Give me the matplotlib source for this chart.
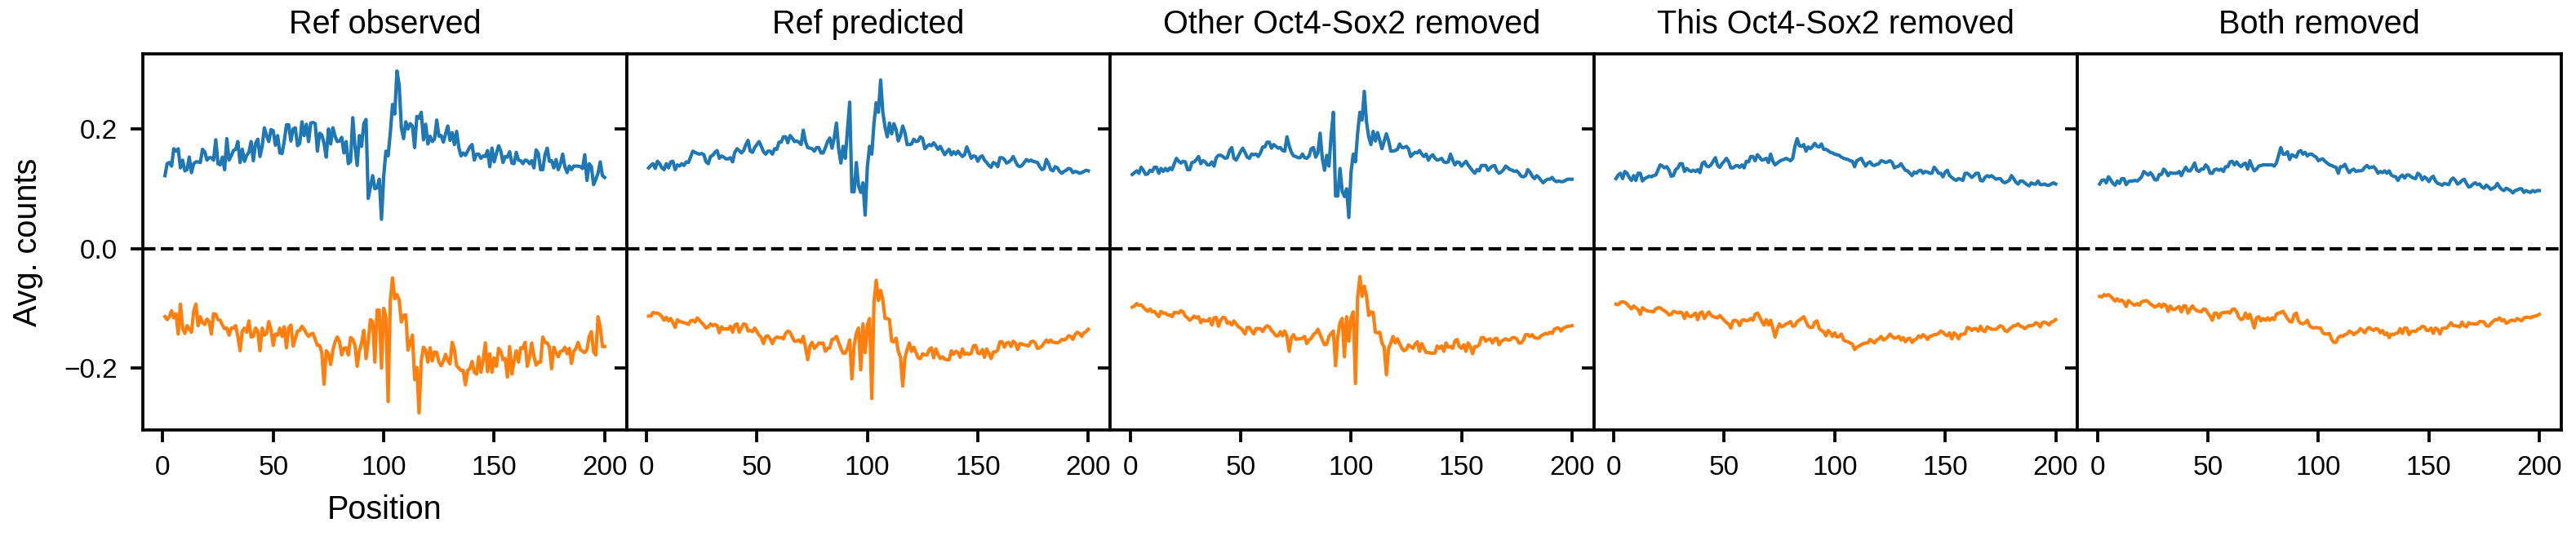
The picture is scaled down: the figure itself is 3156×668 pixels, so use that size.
import numpy as np
import matplotlib
matplotlib.use("Agg")
import matplotlib.pyplot as plt

plt.rcParams['font.family'] = ['Liberation Sans', 'DejaVu Sans']

# --- panel titles ---
titles = ["Ref observed", "Ref predicted", "Other Oct4-Sox2 removed",
          "This Oct4-Sox2 removed", "Both removed"]
xticks = [0, 50, 100, 150, 200]
yticks = [-0.2, 0.0, 0.2]

# --- positive strand (blue) avg. counts per position ---
pos_ref_obs = [
    0.122, 0.142, 0.144, 0.138, 0.167, 0.163, 0.167, 0.135, 0.148, 0.130,
    0.132, 0.153, 0.127, 0.142, 0.145, 0.145, 0.144, 0.166, 0.162, 0.148,
    0.152, 0.152, 0.148, 0.182, 0.142, 0.140, 0.153, 0.132, 0.184, 0.148,
    0.155, 0.164, 0.166, 0.179, 0.144, 0.166, 0.146, 0.156, 0.161, 0.179,
    0.147, 0.176, 0.183, 0.154, 0.171, 0.202, 0.189, 0.179, 0.199, 0.197,
    0.173, 0.189, 0.160, 0.159, 0.180, 0.207, 0.207, 0.180, 0.200, 0.202,
    0.172, 0.176, 0.212, 0.189, 0.208, 0.179, 0.210, 0.211, 0.209, 0.163,
    0.193, 0.190, 0.176, 0.153, 0.200, 0.175, 0.202, 0.188, 0.179, 0.180,
    0.186, 0.160, 0.179, 0.142, 0.146, 0.219, 0.171, 0.139, 0.189, 0.171,
    0.209, 0.216, 0.084, 0.103, 0.122, 0.100, 0.102, 0.116, 0.049, 0.121,
    0.163, 0.155, 0.194, 0.241, 0.225, 0.297, 0.274, 0.202, 0.184, 0.212,
    0.200, 0.209, 0.205, 0.169, 0.221, 0.218, 0.228, 0.182, 0.208, 0.175,
    0.188, 0.179, 0.183, 0.215, 0.188, 0.189, 0.178, 0.192, 0.205, 0.181,
    0.194, 0.174, 0.196, 0.169, 0.155, 0.160, 0.156, 0.163, 0.170, 0.174,
    0.148, 0.158, 0.158, 0.151, 0.155, 0.154, 0.164, 0.137, 0.168, 0.145,
    0.159, 0.172, 0.163, 0.144, 0.154, 0.153, 0.162, 0.143, 0.142, 0.161,
    0.148, 0.147, 0.142, 0.148, 0.147, 0.142, 0.147, 0.135, 0.165, 0.159,
    0.132, 0.132, 0.157, 0.168, 0.146, 0.147, 0.135, 0.149, 0.132, 0.142,
    0.158, 0.137, 0.127, 0.138, 0.132, 0.138, 0.138, 0.138, 0.137, 0.134,
    0.157, 0.114, 0.142, 0.137, 0.107, 0.116, 0.126, 0.145, 0.122, 0.119]

pos_ref_pred = [
    0.135, 0.139, 0.142, 0.134, 0.146, 0.142, 0.135, 0.132, 0.142, 0.135,
    0.145, 0.146, 0.132, 0.140, 0.138, 0.142, 0.139, 0.145, 0.144, 0.153,
    0.163, 0.161, 0.159, 0.158, 0.159, 0.157, 0.145, 0.142, 0.154, 0.156,
    0.161, 0.164, 0.151, 0.155, 0.153, 0.150, 0.150, 0.152, 0.145, 0.161,
    0.167, 0.164, 0.160, 0.164, 0.174, 0.181, 0.163, 0.161, 0.169, 0.174,
    0.179, 0.171, 0.162, 0.158, 0.163, 0.163, 0.158, 0.167, 0.166, 0.178,
    0.178, 0.187, 0.187, 0.177, 0.189, 0.185, 0.179, 0.180, 0.178, 0.174,
    0.198, 0.179, 0.169, 0.168, 0.167, 0.163, 0.169, 0.169, 0.160, 0.160,
    0.169, 0.179, 0.185, 0.168, 0.185, 0.210, 0.167, 0.143, 0.171, 0.151,
    0.198, 0.245, 0.095, 0.095, 0.144, 0.105, 0.094, 0.110, 0.056, 0.137,
    0.171, 0.158, 0.210, 0.244, 0.228, 0.282, 0.228, 0.203, 0.187, 0.210,
    0.192, 0.209, 0.199, 0.180, 0.189, 0.205, 0.194, 0.174, 0.174, 0.175,
    0.183, 0.179, 0.180, 0.187, 0.184, 0.167, 0.171, 0.174, 0.172, 0.177,
    0.172, 0.166, 0.171, 0.164, 0.157, 0.162, 0.166, 0.157, 0.162, 0.158,
    0.163, 0.158, 0.154, 0.157, 0.170, 0.161, 0.151, 0.155, 0.154, 0.146,
    0.153, 0.155, 0.148, 0.144, 0.139, 0.136, 0.144, 0.142, 0.137, 0.152,
    0.152, 0.149, 0.143, 0.145, 0.148, 0.154, 0.146, 0.139, 0.137, 0.139,
    0.144, 0.149, 0.146, 0.148, 0.146, 0.145, 0.144, 0.137, 0.132, 0.134,
    0.149, 0.142, 0.132, 0.130, 0.137, 0.135, 0.129, 0.126, 0.129, 0.131,
    0.134, 0.133, 0.127, 0.129, 0.128, 0.126, 0.127, 0.129, 0.131, 0.130]

pos_other_removed = [
    0.124, 0.127, 0.130, 0.126, 0.136, 0.131, 0.124, 0.125, 0.131, 0.129,
    0.136, 0.136, 0.126, 0.134, 0.129, 0.134, 0.130, 0.135, 0.132, 0.142,
    0.151, 0.146, 0.143, 0.146, 0.145, 0.132, 0.132, 0.144, 0.145, 0.149,
    0.154, 0.142, 0.147, 0.145, 0.140, 0.140, 0.145, 0.138, 0.152, 0.156,
    0.156, 0.154, 0.151, 0.152, 0.164, 0.169, 0.151, 0.148, 0.155, 0.162,
    0.168, 0.161, 0.153, 0.151, 0.158, 0.157, 0.158, 0.154, 0.160, 0.170,
    0.170, 0.178, 0.178, 0.168, 0.174, 0.171, 0.168, 0.169, 0.164, 0.163,
    0.187, 0.172, 0.161, 0.155, 0.154, 0.152, 0.152, 0.158, 0.152, 0.151,
    0.155, 0.167, 0.169, 0.153, 0.160, 0.193, 0.151, 0.131, 0.156, 0.138,
    0.189, 0.228, 0.088, 0.088, 0.134, 0.096, 0.087, 0.100, 0.052, 0.128,
    0.158, 0.145, 0.194, 0.228, 0.215, 0.263, 0.212, 0.187, 0.174, 0.196,
    0.180, 0.194, 0.181, 0.167, 0.180, 0.192, 0.180, 0.163, 0.163, 0.164,
    0.166, 0.175, 0.169, 0.169, 0.171, 0.167, 0.154, 0.158, 0.161, 0.160,
    0.164, 0.158, 0.154, 0.158, 0.148, 0.154, 0.157, 0.151, 0.148, 0.149,
    0.151, 0.145, 0.144, 0.145, 0.158, 0.148, 0.140, 0.145, 0.144, 0.138,
    0.142, 0.146, 0.140, 0.135, 0.130, 0.126, 0.132, 0.130, 0.139, 0.139,
    0.139, 0.131, 0.135, 0.138, 0.139, 0.130, 0.126, 0.128, 0.132, 0.138,
    0.135, 0.132, 0.131, 0.129, 0.130, 0.126, 0.121, 0.120, 0.122, 0.132,
    0.128, 0.121, 0.117, 0.122, 0.119, 0.114, 0.110, 0.114, 0.116, 0.116,
    0.119, 0.114, 0.112, 0.113, 0.112, 0.112, 0.114, 0.116, 0.116, 0.116]

pos_this_removed = [
    0.117, 0.123, 0.126, 0.117, 0.129, 0.126, 0.119, 0.114, 0.122, 0.114,
    0.126, 0.126, 0.113, 0.117, 0.119, 0.121, 0.120, 0.122, 0.123, 0.131,
    0.140, 0.138, 0.135, 0.137, 0.131, 0.121, 0.122, 0.132, 0.135, 0.142,
    0.142, 0.129, 0.134, 0.131, 0.129, 0.131, 0.129, 0.132, 0.127, 0.142,
    0.145, 0.138, 0.137, 0.140, 0.146, 0.152, 0.139, 0.136, 0.142, 0.146,
    0.151, 0.145, 0.135, 0.135, 0.138, 0.139, 0.136, 0.140, 0.135, 0.146,
    0.145, 0.154, 0.154, 0.147, 0.157, 0.153, 0.148, 0.149, 0.151, 0.144,
    0.158, 0.146, 0.140, 0.143, 0.146, 0.148, 0.149, 0.151, 0.149, 0.147,
    0.151, 0.171, 0.184, 0.172, 0.171, 0.174, 0.163, 0.170, 0.167, 0.171,
    0.176, 0.171, 0.170, 0.175, 0.166, 0.166, 0.164, 0.161, 0.160, 0.158,
    0.157, 0.156, 0.153, 0.151, 0.150, 0.149, 0.147, 0.146, 0.137, 0.147,
    0.149, 0.151, 0.144, 0.138, 0.143, 0.145, 0.140, 0.139, 0.141, 0.142,
    0.147, 0.146, 0.144, 0.145, 0.147, 0.144, 0.135, 0.137, 0.138, 0.142,
    0.136, 0.131, 0.130, 0.126, 0.122, 0.128, 0.126, 0.130, 0.131, 0.126,
    0.129, 0.128, 0.126, 0.126, 0.136, 0.132, 0.126, 0.126, 0.120, 0.128,
    0.131, 0.122, 0.119, 0.116, 0.114, 0.117, 0.116, 0.114, 0.126, 0.126,
    0.123, 0.119, 0.122, 0.126, 0.126, 0.114, 0.113, 0.119, 0.122, 0.120,
    0.122, 0.119, 0.116, 0.117, 0.117, 0.112, 0.110, 0.112, 0.114, 0.122,
    0.117, 0.111, 0.108, 0.113, 0.113, 0.110, 0.107, 0.105, 0.110, 0.108,
    0.108, 0.113, 0.107, 0.107, 0.108, 0.106, 0.106, 0.108, 0.110, 0.108]

pos_both_removed = [
    0.108, 0.114, 0.115, 0.110, 0.120, 0.115, 0.109, 0.106, 0.113, 0.109,
    0.117, 0.117, 0.107, 0.112, 0.113, 0.113, 0.114, 0.113, 0.116, 0.120,
    0.129, 0.126, 0.123, 0.127, 0.122, 0.115, 0.115, 0.124, 0.124, 0.133,
    0.129, 0.122, 0.127, 0.126, 0.126, 0.126, 0.129, 0.122, 0.130, 0.136,
    0.130, 0.130, 0.136, 0.143, 0.131, 0.129, 0.133, 0.133, 0.140, 0.136,
    0.126, 0.126, 0.132, 0.133, 0.131, 0.133, 0.129, 0.137, 0.137, 0.145,
    0.146, 0.140, 0.145, 0.140, 0.137, 0.141, 0.143, 0.133, 0.147, 0.137,
    0.130, 0.133, 0.138, 0.139, 0.140, 0.140, 0.140, 0.140, 0.140, 0.138,
    0.143, 0.156, 0.169, 0.158, 0.158, 0.162, 0.149, 0.157, 0.155, 0.153,
    0.162, 0.164, 0.158, 0.161, 0.155, 0.158, 0.158, 0.155, 0.153, 0.147,
    0.149, 0.150, 0.146, 0.143, 0.140, 0.139, 0.137, 0.136, 0.126, 0.137,
    0.137, 0.141, 0.133, 0.127, 0.131, 0.133, 0.129, 0.130, 0.130, 0.131,
    0.136, 0.139, 0.135, 0.136, 0.137, 0.133, 0.126, 0.129, 0.127, 0.130,
    0.126, 0.130, 0.123, 0.121, 0.120, 0.114, 0.120, 0.123, 0.118, 0.123,
    0.123, 0.120, 0.118, 0.117, 0.126, 0.123, 0.115, 0.120, 0.117, 0.112,
    0.118, 0.121, 0.113, 0.109, 0.108, 0.106, 0.109, 0.108, 0.107, 0.115,
    0.118, 0.114, 0.108, 0.110, 0.114, 0.116, 0.109, 0.103, 0.104, 0.108,
    0.110, 0.107, 0.108, 0.103, 0.101, 0.106, 0.103, 0.099, 0.101, 0.103,
    0.109, 0.103, 0.099, 0.097, 0.101, 0.099, 0.097, 0.093, 0.097, 0.098,
    0.100, 0.100, 0.094, 0.097, 0.095, 0.094, 0.097, 0.095, 0.097, 0.097]

# --- negative strand (orange) ---
neg_ref_obs = [
    -0.114, -0.119, -0.114, -0.104, -0.116, -0.109, -0.143, -0.093, -0.133, -0.142,
    -0.129, -0.135, -0.140, -0.105, -0.093, -0.129, -0.114, -0.124, -0.127, -0.118,
    -0.122, -0.143, -0.109, -0.110, -0.119, -0.120, -0.128, -0.134, -0.133, -0.145,
    -0.133, -0.133, -0.129, -0.147, -0.171, -0.138, -0.133, -0.140, -0.121, -0.148,
    -0.147, -0.133, -0.138, -0.171, -0.133, -0.145, -0.142, -0.122, -0.136, -0.162,
    -0.143, -0.145, -0.133, -0.147, -0.131, -0.166, -0.133, -0.128, -0.163, -0.151,
    -0.138, -0.137, -0.130, -0.135, -0.142, -0.147, -0.143, -0.142, -0.152, -0.162,
    -0.162, -0.174, -0.227, -0.171, -0.176, -0.194, -0.170, -0.156, -0.148, -0.156,
    -0.178, -0.167, -0.166, -0.178, -0.149, -0.152, -0.162, -0.197, -0.171, -0.158,
    -0.137, -0.184, -0.156, -0.119, -0.122, -0.190, -0.103, -0.103, -0.200, -0.100,
    -0.115, -0.256, -0.087, -0.049, -0.084, -0.077, -0.086, -0.123, -0.112, -0.111,
    -0.170, -0.158, -0.145, -0.219, -0.199, -0.275, -0.188, -0.165, -0.170, -0.190,
    -0.166, -0.188, -0.173, -0.174, -0.190, -0.196, -0.188, -0.177, -0.187, -0.193,
    -0.157, -0.169, -0.196, -0.200, -0.204, -0.204, -0.228, -0.204, -0.201, -0.189,
    -0.207, -0.210, -0.181, -0.207, -0.186, -0.158, -0.206, -0.176, -0.207, -0.183,
    -0.197, -0.167, -0.172, -0.186, -0.184, -0.215, -0.164, -0.210, -0.188, -0.171,
    -0.190, -0.166, -0.167, -0.157, -0.197, -0.182, -0.158, -0.180, -0.195, -0.190,
    -0.190, -0.148, -0.157, -0.158, -0.165, -0.201, -0.165, -0.174, -0.181, -0.172,
    -0.171, -0.165, -0.176, -0.167, -0.192, -0.172, -0.167, -0.157, -0.169, -0.172,
    -0.174, -0.169, -0.147, -0.139, -0.173, -0.178, -0.114, -0.131, -0.164, -0.164]

neg_ref_pred = [
    -0.113, -0.113, -0.107, -0.108, -0.108, -0.110, -0.114, -0.120, -0.115, -0.121,
    -0.117, -0.124, -0.132, -0.119, -0.122, -0.123, -0.124, -0.125, -0.127, -0.121,
    -0.120, -0.123, -0.116, -0.120, -0.124, -0.128, -0.133, -0.131, -0.126, -0.129,
    -0.127, -0.129, -0.141, -0.131, -0.135, -0.134, -0.135, -0.130, -0.140, -0.128,
    -0.126, -0.140, -0.133, -0.126, -0.127, -0.138, -0.137, -0.139, -0.133, -0.139,
    -0.145, -0.149, -0.159, -0.147, -0.146, -0.151, -0.159, -0.151, -0.148, -0.149,
    -0.149, -0.151, -0.142, -0.138, -0.140, -0.148, -0.155, -0.155, -0.153, -0.157,
    -0.147, -0.165, -0.186, -0.163, -0.157, -0.167, -0.163, -0.158, -0.159, -0.158,
    -0.172, -0.167, -0.166, -0.152, -0.151, -0.147, -0.157, -0.167, -0.175, -0.175,
    -0.167, -0.153, -0.218, -0.163, -0.142, -0.133, -0.203, -0.126, -0.174, -0.128,
    -0.117, -0.251, -0.090, -0.053, -0.087, -0.070, -0.086, -0.117, -0.117, -0.119,
    -0.155, -0.156, -0.150, -0.172, -0.182, -0.230, -0.183, -0.169, -0.158, -0.172,
    -0.165, -0.174, -0.183, -0.184, -0.176, -0.178, -0.178, -0.169, -0.166, -0.183,
    -0.168, -0.177, -0.184, -0.181, -0.185, -0.186, -0.186, -0.171, -0.177, -0.172,
    -0.174, -0.182, -0.168, -0.177, -0.175, -0.177, -0.175, -0.163, -0.162, -0.175,
    -0.176, -0.169, -0.182, -0.168, -0.175, -0.184, -0.173, -0.173, -0.170, -0.156,
    -0.156, -0.165, -0.158, -0.157, -0.164, -0.155, -0.158, -0.169, -0.159, -0.160,
    -0.161, -0.162, -0.163, -0.156, -0.155, -0.158, -0.167, -0.166, -0.163, -0.158,
    -0.153, -0.157, -0.153, -0.157, -0.157, -0.158, -0.156, -0.152, -0.153, -0.151,
    -0.146, -0.147, -0.152, -0.144, -0.140, -0.142, -0.147, -0.141, -0.139, -0.135]

neg_other_removed = [
    -0.098, -0.096, -0.092, -0.095, -0.094, -0.098, -0.102, -0.105, -0.101, -0.106,
    -0.105, -0.110, -0.114, -0.105, -0.108, -0.108, -0.111, -0.111, -0.114, -0.107,
    -0.107, -0.108, -0.104, -0.106, -0.113, -0.116, -0.120, -0.117, -0.113, -0.116,
    -0.114, -0.124, -0.119, -0.121, -0.121, -0.117, -0.128, -0.116, -0.115, -0.130,
    -0.120, -0.115, -0.116, -0.125, -0.123, -0.128, -0.121, -0.126, -0.131, -0.133,
    -0.137, -0.143, -0.132, -0.132, -0.138, -0.143, -0.134, -0.134, -0.134, -0.139,
    -0.133, -0.129, -0.131, -0.137, -0.141, -0.146, -0.146, -0.139, -0.146, -0.138,
    -0.147, -0.172, -0.149, -0.144, -0.152, -0.151, -0.151, -0.150, -0.147, -0.159,
    -0.153, -0.150, -0.144, -0.141, -0.135, -0.144, -0.153, -0.161, -0.160, -0.147,
    -0.142, -0.138, -0.196, -0.147, -0.124, -0.117, -0.181, -0.114, -0.155, -0.116,
    -0.106, -0.226, -0.081, -0.047, -0.080, -0.063, -0.079, -0.112, -0.106, -0.107,
    -0.140, -0.141, -0.140, -0.158, -0.165, -0.211, -0.167, -0.158, -0.147, -0.158,
    -0.151, -0.159, -0.167, -0.171, -0.169, -0.161, -0.164, -0.167, -0.160, -0.156,
    -0.172, -0.159, -0.167, -0.174, -0.174, -0.175, -0.175, -0.175, -0.163, -0.167,
    -0.163, -0.172, -0.158, -0.165, -0.164, -0.167, -0.155, -0.152, -0.164, -0.167,
    -0.161, -0.172, -0.158, -0.164, -0.176, -0.164, -0.164, -0.161, -0.149, -0.149,
    -0.155, -0.152, -0.151, -0.158, -0.151, -0.150, -0.161, -0.155, -0.153, -0.151,
    -0.153, -0.153, -0.149, -0.149, -0.151, -0.158, -0.158, -0.153, -0.144, -0.144,
    -0.147, -0.144, -0.149, -0.150, -0.150, -0.146, -0.144, -0.142, -0.143, -0.140,
    -0.142, -0.135, -0.133, -0.133, -0.138, -0.133, -0.132, -0.130, -0.130, -0.129]

neg_this_removed = [
    -0.093, -0.094, -0.090, -0.089, -0.090, -0.093, -0.097, -0.101, -0.096, -0.099,
    -0.102, -0.110, -0.099, -0.102, -0.104, -0.105, -0.105, -0.106, -0.101, -0.099,
    -0.099, -0.102, -0.104, -0.107, -0.111, -0.110, -0.105, -0.106, -0.108, -0.106,
    -0.108, -0.117, -0.107, -0.113, -0.114, -0.111, -0.108, -0.119, -0.108, -0.106,
    -0.117, -0.111, -0.106, -0.111, -0.114, -0.115, -0.116, -0.112, -0.116, -0.120,
    -0.124, -0.126, -0.133, -0.121, -0.120, -0.122, -0.129, -0.120, -0.119, -0.121,
    -0.120, -0.117, -0.120, -0.110, -0.108, -0.114, -0.122, -0.128, -0.119, -0.128,
    -0.120, -0.133, -0.148, -0.135, -0.126, -0.131, -0.129, -0.126, -0.125, -0.122,
    -0.130, -0.129, -0.122, -0.120, -0.117, -0.114, -0.122, -0.130, -0.132, -0.132,
    -0.123, -0.121, -0.134, -0.137, -0.139, -0.146, -0.137, -0.141, -0.147, -0.141,
    -0.148, -0.147, -0.143, -0.153, -0.155, -0.156, -0.158, -0.160, -0.169, -0.165,
    -0.163, -0.161, -0.159, -0.158, -0.158, -0.152, -0.155, -0.158, -0.153, -0.151,
    -0.147, -0.153, -0.151, -0.148, -0.143, -0.147, -0.150, -0.149, -0.147, -0.153,
    -0.149, -0.156, -0.151, -0.150, -0.157, -0.153, -0.151, -0.146, -0.149, -0.144,
    -0.147, -0.152, -0.147, -0.146, -0.144, -0.144, -0.142, -0.138, -0.140, -0.144,
    -0.146, -0.141, -0.151, -0.141, -0.144, -0.151, -0.144, -0.143, -0.143, -0.132,
    -0.133, -0.137, -0.134, -0.134, -0.138, -0.130, -0.137, -0.139, -0.131, -0.133,
    -0.135, -0.135, -0.135, -0.132, -0.129, -0.131, -0.137, -0.139, -0.135, -0.132,
    -0.129, -0.129, -0.126, -0.130, -0.131, -0.134, -0.131, -0.129, -0.129, -0.128,
    -0.124, -0.126, -0.131, -0.124, -0.123, -0.125, -0.128, -0.123, -0.122, -0.119]

neg_both_removed = [
    -0.080, -0.081, -0.077, -0.079, -0.077, -0.080, -0.084, -0.088, -0.084, -0.088,
    -0.086, -0.090, -0.097, -0.087, -0.090, -0.093, -0.095, -0.092, -0.095, -0.089,
    -0.088, -0.087, -0.089, -0.093, -0.095, -0.098, -0.096, -0.093, -0.098, -0.093,
    -0.095, -0.105, -0.096, -0.102, -0.102, -0.099, -0.097, -0.106, -0.096, -0.096,
    -0.108, -0.101, -0.096, -0.101, -0.104, -0.105, -0.106, -0.101, -0.102, -0.108,
    -0.113, -0.120, -0.108, -0.108, -0.116, -0.108, -0.107, -0.107, -0.106, -0.108,
    -0.102, -0.101, -0.106, -0.115, -0.119, -0.117, -0.108, -0.117, -0.110, -0.121,
    -0.133, -0.116, -0.114, -0.121, -0.117, -0.120, -0.116, -0.120, -0.116, -0.119,
    -0.110, -0.108, -0.107, -0.105, -0.111, -0.117, -0.122, -0.123, -0.111, -0.108,
    -0.121, -0.125, -0.126, -0.124, -0.120, -0.129, -0.132, -0.133, -0.132, -0.133,
    -0.133, -0.141, -0.143, -0.143, -0.142, -0.152, -0.157, -0.157, -0.149, -0.146,
    -0.147, -0.144, -0.143, -0.138, -0.140, -0.144, -0.141, -0.139, -0.134, -0.137,
    -0.141, -0.135, -0.132, -0.135, -0.137, -0.134, -0.135, -0.141, -0.137, -0.144,
    -0.141, -0.149, -0.143, -0.144, -0.142, -0.141, -0.134, -0.142, -0.133, -0.133,
    -0.144, -0.139, -0.138, -0.139, -0.135, -0.134, -0.130, -0.131, -0.137, -0.137,
    -0.133, -0.142, -0.133, -0.135, -0.143, -0.134, -0.133, -0.133, -0.129, -0.124,
    -0.129, -0.129, -0.130, -0.131, -0.123, -0.129, -0.131, -0.124, -0.126, -0.126,
    -0.126, -0.126, -0.122, -0.122, -0.123, -0.129, -0.130, -0.126, -0.122, -0.119,
    -0.119, -0.116, -0.121, -0.119, -0.125, -0.123, -0.120, -0.120, -0.121, -0.117,
    -0.119, -0.121, -0.116, -0.115, -0.115, -0.116, -0.114, -0.113, -0.112, -0.110]

pos_series = [pos_ref_obs, pos_ref_pred, pos_other_removed, pos_this_removed, pos_both_removed]
neg_series = [neg_ref_obs, neg_ref_pred, neg_other_removed, neg_this_removed, neg_both_removed]

fig, axes = plt.subplots(1, 5, sharey=True, figsize=(3156 / 300, 668 / 300), dpi=300)
fig.subplots_adjust(left=0.0555, right=0.9943, top=0.901, bottom=0.211, wspace=0)

for ax, title, pos, neg in zip(axes, titles, pos_series, neg_series):
    x_pos = np.arange(1, len(pos) + 1)
    x_neg = np.arange(1, len(neg) + 1)
    ax.plot(x_pos, pos, color="#1f77b4", lw=1.0)
    ax.plot(x_neg, neg, color="#ff7f0e", lw=1.0)
    ax.axhline(0, color="black", ls="--", lw=1.0)
    ax.set_title(title, fontsize=9.5)
    ax.set_xticks(xticks)
    ax.set_yticks(yticks)
    ax.tick_params(labelsize=8, length=3.5, width=0.9, pad=4)
    for sp in ax.spines.values():
        sp.set_linewidth(0.9)

axes[0].set_ylabel("Avg. counts", fontsize=9.5, labelpad=6)
axes[0].set_xlabel("Position", fontsize=9.5)

fig.savefig("out.png", dpi=300)
